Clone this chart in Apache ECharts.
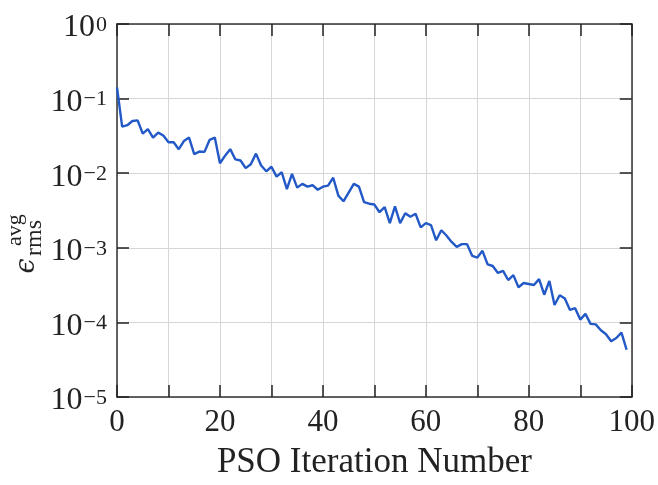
<!DOCTYPE html>
<html>
<head>
<meta charset="utf-8">
<script src="https://cdn.jsdelivr.net/npm/echarts@6/dist/echarts.min.js"></script>
<style>
html,body{margin:0;padding:0;background:#fff;}
#chart{width:658px;height:485px;}
</style>
</head>
<body>
<div id="chart"></div>
<script>
const iterations = [0,1,2,3,4,5,6,7,8,9,10,11,12,13,14,15,16,17,18,19,20,21,22,23,24,25,26,27,28,29,30,31,32,33,34,35,36,37,38,39,40,41,42,43,44,45,46,47,48,49,50,51,52,53,54,55,56,57,58,59,60,61,62,63,64,65,66,67,68,69,70,71,72,73,74,75,76,77,78,79,80,81,82,83,84,85,86,87,88,89,90,91,92,93,94,95,96,97,98,99];
const errRmsAvg = [
  0.141, 0.042, 0.044, 0.050, 0.051, 0.034, 0.039, 0.030, 0.035, 0.032,
  0.026, 0.026, 0.021, 0.027, 0.030, 0.018, 0.0195, 0.0193, 0.028, 0.030,
  0.0136, 0.0172, 0.021, 0.0153, 0.0148, 0.0117, 0.0132, 0.0183, 0.0127, 0.0106,
  0.0122, 0.0090, 0.0103, 0.0061, 0.0098, 0.0064, 0.0072, 0.0066, 0.0069, 0.0060,
  0.0066, 0.0068, 0.0087, 0.0050, 0.0042, 0.0055, 0.0072, 0.0066, 0.0041, 0.0039,
  0.0038, 0.0030, 0.0035, 0.00214, 0.0036, 0.00214, 0.0029, 0.0026, 0.00286, 0.00188,
  0.00214, 0.00202, 0.00126, 0.00172, 0.00146, 0.0012, 0.00103, 0.00112, 0.00112, 0.00078,
  0.00074, 0.00091, 0.00060, 0.00057, 0.00046, 0.00049, 0.00037, 0.00043, 0.000296, 0.000337,
  0.000327, 0.000317, 0.00038, 0.000235, 0.00036, 0.000171, 0.000231, 0.000209, 0.000147, 0.000155,
  0.000109, 0.000130, 0.0000955, 0.000094, 0.0000785, 0.0000695, 0.0000558, 0.0000617, 0.000073, 0.000043
];
const xTickLabels = [0, 20, 40, 60, 80, 100];
const xAxisTitle = 'PSO Iteration Number';

const FONT = 'Liberation Serif';
const TXT = '#222';
const AX = '#333';

const chart = echarts.init(document.getElementById('chart'), null, {renderer: 'canvas'});
const seriesData = iterations.map((it, i) => [it, errRmsAvg[i]]);

const option = {
  animation: false,
  backgroundColor: '#fff',
  grid: {left: 117, right: 23, top: 24, bottom: 77, containLabel: false},
  xAxis: [{
    type: 'value', min: 0, max: 100, interval: 10, position: 'bottom',
    axisLine: {show: true, onZero: false, lineStyle: {color: AX, width: 1.5}},
    axisTick: {show: true, inside: true, length: 12, lineStyle: {color: '#222', width: 1.5}},
    axisLabel: {
      margin: 10, fontSize: 31, fontFamily: FONT, color: TXT,
      formatter: v => xTickLabels.indexOf(v) >= 0 ? String(v) : ''
    },
    splitLine: {show: true, lineStyle: {color: '#d6d6d6', width: 1}},
    name: xAxisTitle, nameLocation: 'middle', nameGap: 48,
    nameTextStyle: {fontSize: 35, fontFamily: FONT, color: TXT}
  }, {
    type: 'value', min: 0, max: 100, interval: 10, position: 'top',
    axisLine: {show: true, onZero: false, lineStyle: {color: AX, width: 1.5}},
    axisTick: {show: true, inside: true, length: 12, lineStyle: {color: '#222', width: 1.5}},
    axisLabel: {show: false},
    splitLine: {show: false}
  }],
  yAxis: [{
    type: 'log', logBase: 10, min: 1e-5, max: 1, position: 'left', splitNumber: 5,
    axisLine: {show: true, onZero: false, lineStyle: {color: AX, width: 1.5}},
    axisTick: {show: true, inside: true, length: 12, lineStyle: {color: '#222', width: 1.5}},
    axisLabel: {
      margin: 10, color: TXT, padding: [8, 0, 0, 0],
      formatter: v => {
        const e = Math.round(Math.log10(v));
        const s = e < 0 ? '\u2212' + (-e) : String(e);
        return '{b|10}{s|' + s + '}';
      },
      rich: {
        b: {fontSize: 32, lineHeight: 32, fontFamily: FONT, color: TXT, verticalAlign: 'top'},
        s: {fontSize: 22, lineHeight: 22, fontFamily: FONT, color: TXT, verticalAlign: 'top', padding: [2, 0, 0, 1]}
      }
    },
    splitLine: {show: true, lineStyle: {color: '#d6d6d6', width: 1}}
  }, {
    type: 'log', logBase: 10, min: 1e-5, max: 1, position: 'right', splitNumber: 5,
    axisLine: {show: true, onZero: false, lineStyle: {color: AX, width: 1.5}},
    axisTick: {show: true, inside: true, length: 12, lineStyle: {color: '#222', width: 1.5}},
    axisLabel: {show: false},
    splitLine: {show: false}
  }],
  graphic: [
    {type: 'text', x: 27, y: 266, rotation: Math.PI / 2,
     style: {text: '\u03F5', font: 'italic 27px "DejaVu Serif"', fill: TXT, align: 'center', verticalAlign: 'middle'}},
    {type: 'text', x: 35, y: 256, rotation: Math.PI / 2,
     style: {text: 'rms', font: '24px "Liberation Serif"', fill: TXT, align: 'left', verticalAlign: 'middle'}},
    {type: 'text', x: 15, y: 246, rotation: Math.PI / 2,
     style: {text: 'avg', font: '22px "Liberation Serif"', fill: TXT, align: 'left', verticalAlign: 'middle'}}
  ],
  series: [{
    type: 'line', xAxisIndex: 0, yAxisIndex: 0,
    data: seriesData, showSymbol: false, symbol: 'none',
    lineStyle: {color: '#2259c7', width: 2.4},
    z: 5
  }]
};
chart.setOption(option);
</script>
</body>
</html>
